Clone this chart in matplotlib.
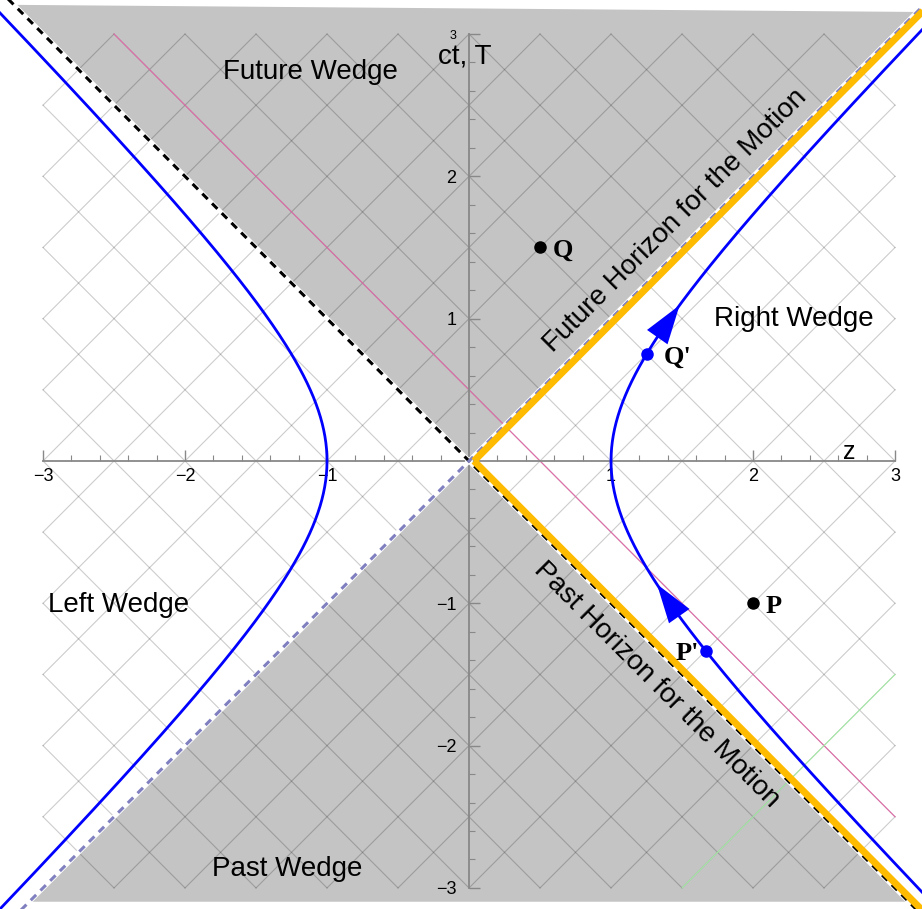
import numpy as np
import matplotlib
matplotlib.use("Agg")
import matplotlib.pyplot as plt

plt.rcParams['font.family'] = ['Liberation Sans', 'DejaVu Sans']

# data
x_ticks = [-3, -2, -1, 1, 2, 3]
y_ticks = [-3, -2, -1, 1, 2, 3]
events = {"Q": (0.5, 1.5), "P": (2.0, -1.0)}
boosted = {"Q'": (1.25, 0.75), "P'": (5.0 / 3.0, -4.0 / 3.0)}
arrow_t = [(0.87, 1.11), (-1.12, -0.85)]   # (base, tip) in T along the hyperbola
pink_c = 0.5     # line t + z = 0.5
green_c = -4.5   # line t - z = -4.5
wedge_labels = [("Future Wedge", -1.12, 2.73), ("Right Wedge", 2.29, 1.0),
                ("Left Wedge", -2.47, -1.01), ("Past Wedge", -1.28, -2.87)]

fig = plt.figure(figsize=(9.22, 9.09), dpi=100)
ax = fig.add_axes([0, 0, 1, 1])
ax.set_xlim(-3.303, 3.19)
ax.set_ylim(-3.148, 3.239)

# shaded future / past wedges
top_l, top_r, bot = 3.205, 3.155, 3.097
ax.add_patch(plt.Polygon([(0, 0), (-top_l, top_l), (top_r, top_r)],
                         closed=True, fc='#c4c4c4', ec='none', zorder=0))
ax.add_patch(plt.Polygon([(0, 0), (-bot, -bot), (bot, -bot)],
                         closed=True, fc='#c4c4c4', ec='none', zorder=0))

# light-cone grid clipped to the square [-3, 3]
def cone_line(c, sign):
    # t = c - sign * z  (sign=1 -> t+z=c, sign=-1 -> t-z=c)
    zs = np.linspace(-3, 3, 601)
    ts = c - sign * zs
    m = (ts >= -3 - 1e-9) & (ts <= 3 + 1e-9)
    return zs[m], ts[m]

for c in np.arange(-6, 6.01, 0.5):
    for s in (1, -1):
        zz, tt = cone_line(c, s)
        if len(zz) > 1:
            ax.plot(zz, tt, color='black', alpha=0.2, lw=0.8, zorder=1)

zz, tt = cone_line(pink_c, 1)
ax.plot(zz, tt, color='#e06aa8', lw=0.8, zorder=1.5)
zz, tt = cone_line(green_c, -1)
ax.plot(zz, tt, color='#a6eaa6', lw=0.8, zorder=1.5)

# axes through the origin
for side in ('top', 'right'):
    ax.spines[side].set_visible(False)
for side in ('left', 'bottom'):
    ax.spines[side].set_position(('data', 0))
    ax.spines[side].set_bounds(-3, 3)
    ax.spines[side].set_color('#888888')
    ax.spines[side].set_linewidth(1.3)
ax.set_xticks(x_ticks)
ax.set_yticks(y_ticks)
ax.set_xticks(np.arange(-3, 3.01, 0.2), minor=True)
ax.set_yticks(np.arange(-3, 3.01, 0.2), minor=True)
ax.tick_params(which='major', direction='in', length=8, width=1, color='#888888', labelsize=13)
ax.tick_params(which='minor', direction='in', length=4, width=0.8, color='#888888')
ax.tick_params(axis='x', pad=5)
ax.tick_params(axis='y', pad=9)
ax.get_yticklabels()[-1].set_fontsize(9)

ax.text(2.68, 0.06, "z", fontsize=18, ha='center', va='center')
ax.text(-0.03, 2.84, "ct, T", fontsize=20, ha='center', va='center')

# light-cone diagonals
span = np.array([-3.4, 3.4])
ax.plot(span, -span, color='white', lw=3.5, zorder=3)
ax.plot(span, -span, color='black', lw=2.2, dashes=(2.5, 2), zorder=3.1)
ax.plot(span, span, color='white', lw=3.5, zorder=3)
ax.plot(span, span, color='#8080c0', lw=2.2, dashes=(2.5, 2), zorder=3.1)

# horizons for the motion
dz = 0.035
hz = np.array([0, 3.4])
ax.plot(hz + dz, hz, color='#ffbb00', lw=5, solid_capstyle='butt', zorder=3.5)
ax.plot(hz + dz, -hz, color='#ffbb00', lw=5, solid_capstyle='butt', zorder=3.5)

# hyperbolae z^2 - T^2 = 1
tau = np.linspace(-2.2, 2.2, 500)
ax.plot(np.cosh(tau), np.sinh(tau), color='#0000ff', lw=2, zorder=4)
ax.plot(-np.cosh(tau), np.sinh(tau), color='#0000ff', lw=2, zorder=4)
for t0, t1 in arrow_t:
    ax.annotate('', xy=(np.sqrt(1 + t1 ** 2), t1), xytext=(np.sqrt(1 + t0 ** 2), t0),
                arrowprops=dict(arrowstyle='-|>,head_length=1.4,head_width=0.45',
                                mutation_scale=20, color='#0000ff', lw=0), zorder=4.5)

# events
for name, (z, t) in events.items():
    ax.plot(z, t, 'o', color='black', ms=8, zorder=5)
    ax.text(z + 0.09, t - 0.02, name, fontsize=19, fontweight='bold', family='Liberation Serif',
            ha='left', va='center', zorder=6)
zq, tq = boosted["Q'"]
ax.plot(zq, tq, 'o', color='#0000ff', ms=8, zorder=5)
ax.text(zq + 0.12, tq - 0.02, "Q'", fontsize=19, fontweight='bold', family='Liberation Serif',
        ha='left', va='center', zorder=6)
zp, tp = boosted["P'"]
ax.plot(zp, tp, 'o', color='#0000ff', ms=8, zorder=5)
ax.text(zp - 0.05, tp - 0.02, "P'", fontsize=19, fontweight='bold', family='Liberation Serif',
        ha='right', va='center', zorder=6)

for label, x, y in wedge_labels:
    ax.text(x, y, label, fontsize=20, ha='center', va='center', zorder=6)
ax.text(1.45, 1.69, "Future Horizon for the Motion", fontsize=20, rotation=45,
        rotation_mode='anchor', ha='center', va='center', zorder=6)
ax.text(1.32, -1.57, "Past Horizon for the Motion", fontsize=20, rotation=-45,
        rotation_mode='anchor', ha='center', va='center', zorder=6)

fig.savefig("out.png", dpi=100)
